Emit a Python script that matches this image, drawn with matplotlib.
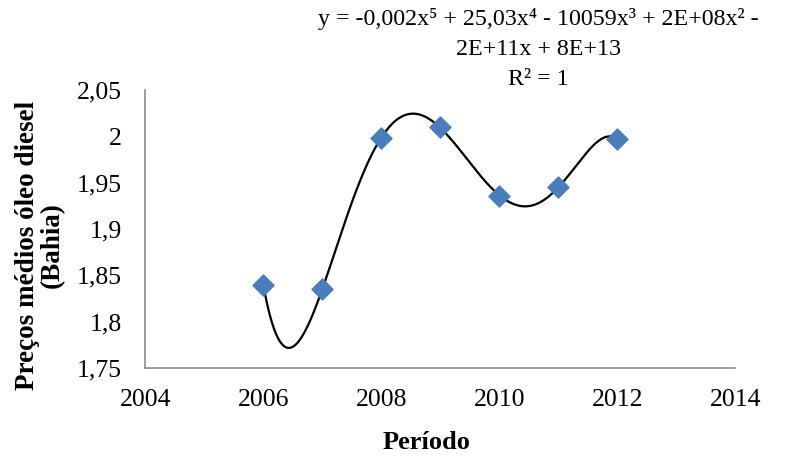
import numpy as np
import matplotlib.pyplot as plt
from matplotlib.ticker import FuncFormatter

plt.rcParams['font.family'] = ['Liberation Serif', 'DejaVu Serif']

anos = [2006, 2007, 2008, 2009, 2010, 2011, 2012]
precos = [1.840, 1.835, 1.998, 2.010, 1.936, 1.945, 1.997]

equacao = ('y = -0,002x⁵ + 25,03x⁴ - 10059x³ + 2E+08x² -\n'
           '2E+11x + 8E+13\nR² = 1')

def virgula(v, pos):
    s = ('%.2f' % v).rstrip('0').rstrip('.')
    return s.replace('.', ',')

def main():
    fig = plt.figure(figsize=(8.07, 4.57), dpi=100)
    ax = fig.add_axes([0.180, 0.195, 0.731, 0.608])

    x = np.array(anos, dtype=float)
    y = np.array(precos)
    # polynomial trendline of degree 5, centred to keep it well conditioned
    c = np.polyfit(x - 2009, y, 5)
    xs = np.linspace(2006, 2012, 400)
    ax.plot(xs, np.polyval(c, xs - 2009), color='black', lw=1.6, zorder=2)
    ax.scatter(x, y, marker='D', s=115, color='#4a7ebb', zorder=3)

    ax.set_xlim(2004, 2014)
    ax.set_ylim(1.75, 2.05)
    ax.set_xticks(range(2004, 2015, 2))
    ax.set_yticks(np.arange(1.75, 2.051, 0.05))
    ax.yaxis.set_major_formatter(FuncFormatter(virgula))
    ax.tick_params(length=0, labelsize=18.5)
    ax.tick_params(axis='y', pad=17)
    ax.tick_params(axis='x', pad=15)
    for s in ['top', 'right']:
        ax.spines[s].set_visible(False)
    for s in ['left', 'bottom']:
        ax.spines[s].set_color('#8c8c8c')
        ax.spines[s].set_linewidth(1.2)

    fig.text(0.529, 0.032, 'Período', fontsize=19, fontweight='bold',
             ha='center', va='center')
    fig.text(0.049, 0.464, 'Preços médios óleo diesel\n(Bahia)', fontsize=19.5,
             fontweight='bold', rotation=90, ha='center', va='center',
             linespacing=1.0, multialignment='center')

    fig.text(0.667, 0.982, equacao, ha='center', va='top', fontsize=17.3,
             linespacing=1.55)

    plt.savefig('out.png')

if __name__ == '__main__':
    main()
